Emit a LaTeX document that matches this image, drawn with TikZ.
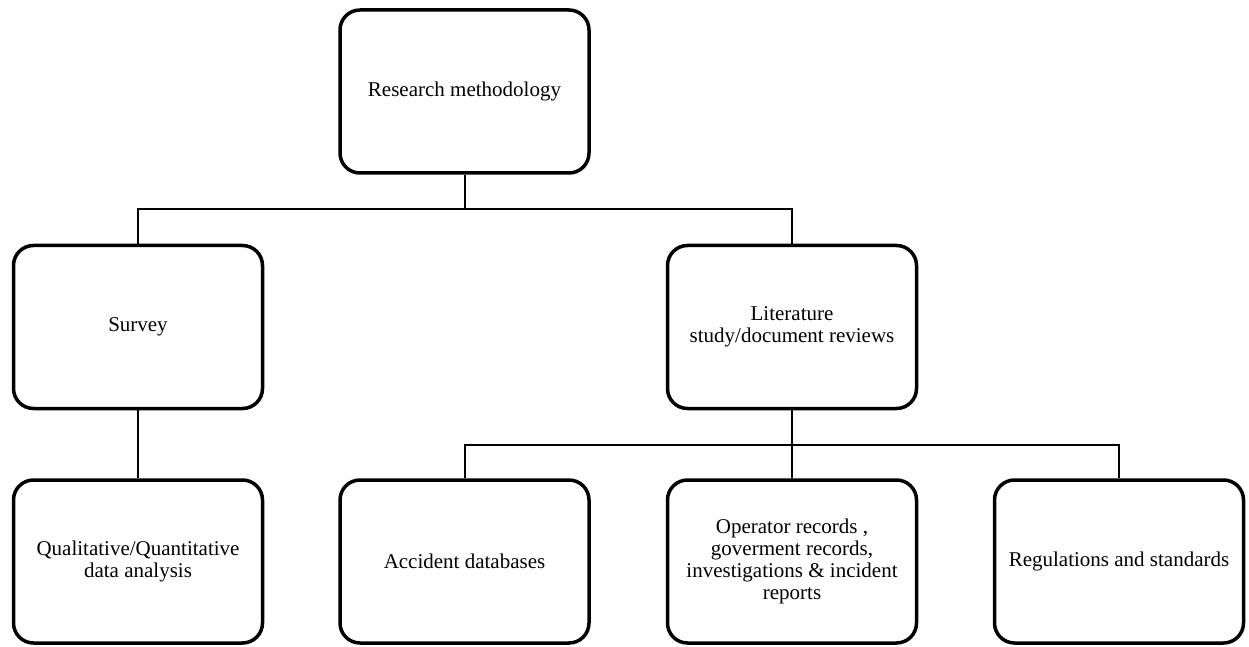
\documentclass[tikz,border=0pt]{standalone}
\usepackage{fontspec}
\setmainfont{Liberation Serif}
\usetikzlibrary{positioning}
\tikzset{
  methodbox/.style={draw,line width=3.5pt,rounded corners=20pt,minimum width=249pt,minimum height=163pt,align=center,inner sep=6pt,font=\fontsize{21}{22}\selectfont},
  link/.style={line width=2pt}
}
\begin{document}
\begin{tikzpicture}[x=1pt,y=1pt]
\useasboundingbox (0,0) rectangle (1249,646);
% boxes
\node[methodbox] (method) at (464.5,554.5) {Research methodology};
\node[methodbox] (survey) at (138,319) {Survey};
\node[methodbox] (lit) at (792,319) {Literature\\study/document reviews};
\node[methodbox] (qual) at (138,84.5) {Qualitative/Quantitative\\data analysis};
\node[methodbox] (accident) at (464.5,84.5) {Accident databases};
\node[methodbox] (records) at (792,84.5) {Operator records ,\\goverment records,\\investigations \& incident\\reports};
\node[methodbox] (regs) at (1119,84.5) {Regulations and standards};
% connectors
\coordinate (split1) at (464.5,437);
\coordinate (split2) at (792,201);
\draw[link] (method.south) -- (split1);
\draw[link] (survey.north) |- (split1) -| (lit.north);
\draw[link] (survey.south) -- (qual.north);
\draw[link] (lit.south) -- (split2) -- (records.north);
\draw[link] (accident.north) |- (split2) -| (regs.north);
\end{tikzpicture}
\end{document}
